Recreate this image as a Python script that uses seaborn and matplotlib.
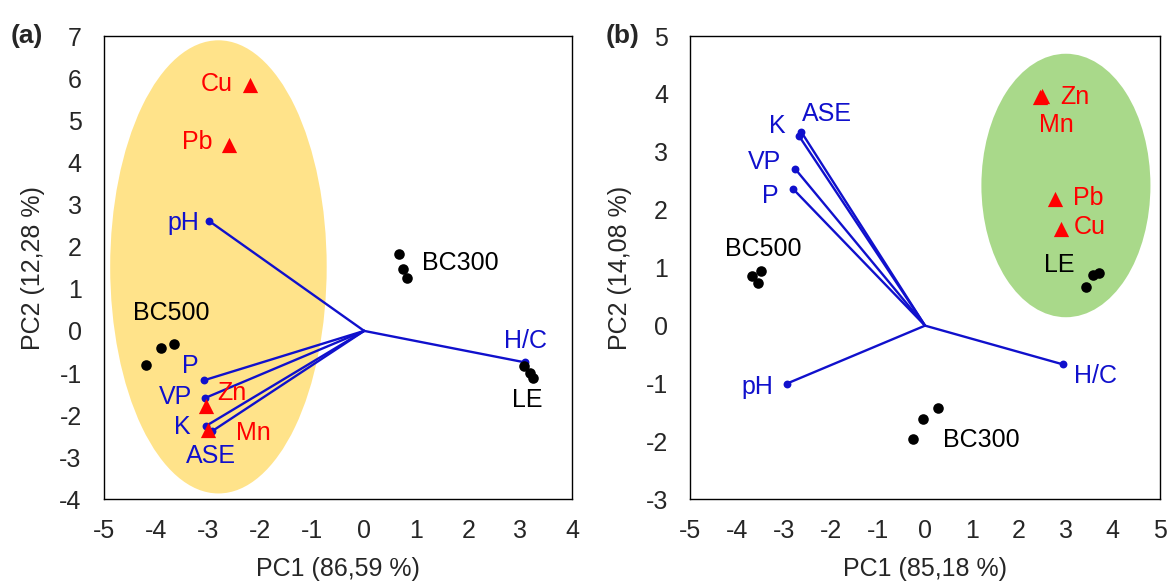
import numpy as np
import pandas as pd
import matplotlib
matplotlib.use("Agg")
import matplotlib.pyplot as plt
from matplotlib.patches import Ellipse
import seaborn as sns

# ---- panel (a) ----
a_samples = ["BC300", "BC300", "BC300", "BC500", "BC500", "BC500", "LE", "LE", "LE"]
a_samp_x = [0.67, 0.75, 0.82, -4.20, -3.90, -3.65, 3.08, 3.18, 3.24]
a_samp_y = [1.82, 1.46, 1.26, -0.81, -0.40, -0.30, -0.83, -1.00, -1.11]
a_metals = ["Cu", "Pb", "Zn", "Mn"]
a_met_x = [-2.20, -2.60, -3.03, -3.00]
a_met_y = [5.85, 4.42, -1.79, -2.36]
a_vars = ["pH", "P", "VP", "K", "ASE", "H/C"]
a_var_x = [-2.98, -3.07, -3.05, -3.03, -2.92, 3.10]
a_var_y = [2.61, -1.17, -1.59, -2.25, -2.38, -0.75]

# ---- panel (b) ----
b_samples = ["BC300", "BC300", "BC300", "BC500", "BC500", "BC500", "LE", "LE", "LE"]
b_samp_x = [0.28, -0.04, -0.25, -3.50, -3.69, -3.55, 3.70, 3.57, 3.43]
b_samp_y = [-1.42, -1.62, -1.96, 0.94, 0.85, 0.73, 0.91, 0.88, 0.67]
b_metals = ["Zn", "Mn", "Pb", "Cu"]
b_met_x = [2.48, 2.45, 2.77, 2.90]
b_met_y = [3.97, 3.94, 2.19, 1.67]
b_vars = ["pH", "P", "VP", "K", "ASE", "H/C"]
b_var_x = [-2.94, -2.81, -2.77, -2.68, -2.64, 2.94]
b_var_y = [-1.00, 2.36, 2.71, 3.27, 3.35, -0.67]

# label placement (data coords)
a_lab = {"BC300": (1.85, 1.62, "k"), "BC500": (-3.7, 0.42, "k"), "LE": (3.13, -1.64, "k"),
         "Cu": (-2.83, 5.87, "r"), "Pb": (-3.2, 4.48, "r"), "Zn": (-2.55, -1.48, "r"),
         "Mn": (-2.13, -2.42, "r"), "pH": (-3.47, 2.57, "b"), "P": (-3.34, -0.83, "b"),
         "VP": (-3.62, -1.58, "b"), "K": (-3.5, -2.28, "b"), "ASE": (-2.94, -2.96, "b"),
         "H/C": (3.1, -0.25, "b")}
b_lab = {"BC300": (1.19, -1.97, "k"), "BC500": (-3.44, 1.32, "k"), "LE": (2.85, 1.04, "k"),
         "Zn": (3.19, 3.95, "r"), "Mn": (2.79, 3.46, "r"), "Pb": (3.48, 2.2, "r"),
         "Cu": (3.5, 1.70, "r"), "pH": (-3.57, -1.06, "b"), "P": (-3.3, 2.24, "b"),
         "VP": (-3.42, 2.82, "b"), "K": (-3.15, 3.44, "b"), "ASE": (-2.09, 3.66, "b"),
         "H/C": (3.62, -0.87, "b")}

BLUE = "#1010CC"
RED = "#FF0000"
COLORS = {"k": "black", "r": RED, "b": BLUE}
FS = 18

sns.set_style("white")
plt.rcParams["font.family"] = ["Liberation Sans", "DejaVu Sans"]
plt.rcParams["axes.unicode_minus"] = False


def draw_panel(ax, samp, sx, sy, mx, my, vx, vy, labels, ellipse, xlim, ylim, xlabel, ylabel):
    ax.add_patch(Ellipse(ellipse[0], ellipse[1], ellipse[2], color=ellipse[3], lw=0, zorder=0))
    for x, y in zip(vx, vy):
        ax.plot([0, x], [0, y], color=BLUE, lw=1.7, zorder=2)
    sns.scatterplot(x=vx, y=vy, color=BLUE, s=32, linewidth=0, ax=ax, zorder=3)
    df = pd.DataFrame({"x": sx, "y": sy, "sample": samp})
    sns.scatterplot(data=df, x="x", y="y", color="black", s=58, linewidth=0, ax=ax, zorder=4)
    sns.scatterplot(x=mx, y=my, marker="^", color=RED, s=120, linewidth=0, ax=ax, zorder=5)
    for name, (tx, ty, c) in labels.items():
        ax.text(tx, ty, name, color=COLORS[c], fontsize=FS, ha="center", va="center", zorder=6)
    ax.set_xlim(*xlim)
    ax.set_ylim(*ylim)
    ax.set_xticks(np.arange(xlim[0], xlim[1] + 1))
    ax.set_yticks(np.arange(ylim[0], ylim[1] + 1))
    ax.tick_params(axis="x", length=0, labelsize=FS, pad=14)
    ax.tick_params(axis="y", length=0, labelsize=FS, pad=16)
    for sp in ax.spines.values():
        sp.set_color("black")
        sp.set_linewidth(1.0)
    ax.set_xlabel(xlabel, fontsize=FS, labelpad=10)
    ax.set_ylabel(ylabel, fontsize=FS, labelpad=10)


fig = plt.figure(figsize=(11.68, 5.82), dpi=100)
ax1 = fig.add_axes([0.089, 0.142, 0.401, 0.796])
ax2 = fig.add_axes([0.591, 0.142, 0.402, 0.796])

draw_panel(ax1, a_samples, a_samp_x, a_samp_y, a_met_x, a_met_y, a_var_x, a_var_y, a_lab,
           ((-2.8, 1.52), 4.16, 10.76, "#FFE38A"), (-5, 4), (-4, 7),
           "PC1 (86,59 %)", "PC2 (12,28 %)")
draw_panel(ax2, b_samples, b_samp_x, b_samp_y, b_met_x, b_met_y, b_var_x, b_var_y, b_lab,
           ((3.0, 2.42), 3.6, 4.55, "#A9D98A"), (-5, 5), (-3, 5),
           "PC1 (85,18 %)", "PC2 (14,08 %)")

fig.text(0.023, 0.938, "(a)", fontsize=19, fontweight="bold", ha="center", va="center")
fig.text(0.533, 0.938, "(b)", fontsize=19, fontweight="bold", ha="center", va="center")

fig.savefig("out.png", dpi=100)
